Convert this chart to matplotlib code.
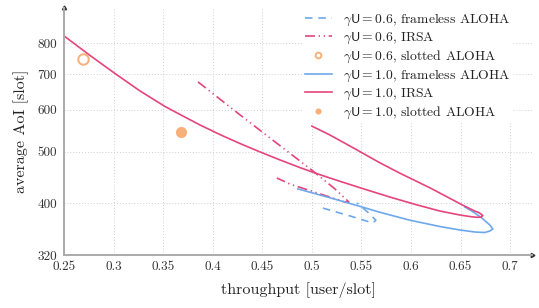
import numpy as np
import matplotlib
matplotlib.use("Agg")
import matplotlib.pyplot as plt
from matplotlib.ticker import FixedLocator, FixedFormatter, NullLocator

plt.rcParams['font.family'] = ['cmr10', 'DejaVu Serif']
plt.rcParams['mathtext.fontset'] = 'cm'
plt.rcParams['axes.formatter.use_mathtext'] = True

PINK = '#E5457B'
BLUE = '#6EA8EC'
ORANGE = '#F8B07A'

# gamma U = 1.0, IRSA (parametric curve: lower branch, tip, upper branch)
irsa10_x = [0.25, 0.2762, 0.3014, 0.3266, 0.3518, 0.3669, 0.3871, 0.4073, 0.4274, 0.4476,
            0.4677, 0.4879, 0.5081, 0.5282, 0.5534, 0.5786, 0.6038, 0.6290, 0.6492, 0.6613,
            0.6673, 0.6704, 0.6724, 0.6683, 0.6643, 0.6522, 0.6190, 0.5887, 0.5685, 0.5383,
            0.5181, 0.5000]
irsa10_y = [826, 759, 702, 651, 608.6, 588, 561.8, 538.9, 518.5, 500,
            483, 467.2, 453, 440.3, 425.3, 411.3, 398.5, 387.1, 380.5, 377.5,
            376.7, 377, 379.7, 384.6, 387, 397, 428, 456, 477, 513,
            538, 559]

# gamma U = 1.0, frameless ALOHA
fa10_x = [0.4859, 0.5181, 0.5504, 0.5685, 0.5988, 0.6290, 0.6492, 0.6643, 0.6744, 0.6794,
          0.6825, 0.6794, 0.6714, 0.6633, 0.6542]
fa10_y = [426, 410, 394, 385, 372, 362, 356.6, 353.5, 352.7, 355,
          358, 364.4, 375.6, 385, 394]

# gamma U = 0.6, frameless ALOHA
fa06_x = [0.5111, 0.5383, 0.5615, 0.5645, 0.5565, 0.5454]
fa06_y = [392, 379, 367.5, 372, 385, 401]

# gamma U = 0.6, IRSA
irsa06_x = [0.3851, 0.4224, 0.4577, 0.5000, 0.5232, 0.5373, 0.5333, 0.5081, 0.4778, 0.4647]
irsa06_y = [677, 597, 531, 462, 426, 402.5, 402.5, 417, 435, 446.6]

# slotted ALOHA points
sa06_x, sa06_y = [0.269], [747]
sa10_x, sa10_y = [0.368], [545]

xticks = [0.25, 0.3, 0.35, 0.4, 0.45, 0.5, 0.55, 0.6, 0.65, 0.7]
xticklabels = ['0.25', '0.3', '0.35', '0.4', '0.45', '0.5', '0.55', '0.6', '0.65', '0.7']
yticks = [320, 400, 500, 600, 700, 800]
yticklabels = ['320', '400', '500', '600', '700', '800']

fig = plt.figure(figsize=(5.39, 3.08), dpi=100)
ax = fig.add_axes([64/539, 53/308, (532-64)/539, (255-8)/308])

ax.plot(fa06_x, fa06_y, color=BLUE, lw=1.2, linestyle=(0, (4.5, 3.5)),
        label=r'$\gamma\mathsf{U} = 0.6$, frameless ALOHA')
ax.plot(irsa06_x, irsa06_y, color=PINK, lw=1.2, linestyle=(0, (6, 2.2, 0.8, 2.2, 0.8, 2.2)),
        label=r'$\gamma\mathsf{U} = 0.6$, IRSA')
ax.plot(sa06_x, sa06_y, linestyle='none', marker='o', markersize=7.5, markerfacecolor='none',
        markeredgecolor=ORANGE, markeredgewidth=1.4, label=r'$\gamma\mathsf{U} = 0.6$, slotted ALOHA')
ax.plot(fa10_x, fa10_y, color=BLUE, lw=1.2, label=r'$\gamma\mathsf{U} = 1.0$, frameless ALOHA')
ax.plot(irsa10_x, irsa10_y, color=PINK, lw=1.2, label=r'$\gamma\mathsf{U} = 1.0$, IRSA')
ax.plot(sa10_x, sa10_y, linestyle='none', marker='o', markersize=8, color=ORANGE,
        markeredgewidth=0, label=r'$\gamma\mathsf{U} = 1.0$, slotted ALOHA')

ax.set_yscale('log')
ax.set_xlim(0.25, 0.722)
ax.set_ylim(320, 932)
ax.xaxis.set_major_locator(FixedLocator(xticks))
ax.xaxis.set_major_formatter(FixedFormatter(xticklabels))
ax.yaxis.set_major_locator(FixedLocator(yticks))
ax.yaxis.set_major_formatter(FixedFormatter(yticklabels))
ax.yaxis.set_minor_locator(NullLocator())
ax.tick_params(length=0, labelsize=9.5, colors='#333333')
ax.tick_params(axis='x', pad=4)
ax.tick_params(axis='y', pad=5)
ax.grid(True, linestyle=(0, (1, 2)), color='#cfcfcf', lw=0.7)

for s in ['top', 'right']:
    ax.spines[s].set_visible(False)
for s in ['left', 'bottom']:
    ax.spines[s].set_color('#aaaaaa')
    ax.spines[s].set_linewidth(1.4)
ax.plot(1, 0, marker=(3, 0, -90), color='#333333', markersize=3.5, transform=ax.transAxes, clip_on=False)
ax.plot(0, 1, marker=(3, 0, 0), color='#333333', markersize=3.5, transform=ax.transAxes, clip_on=False)

ax.set_xlabel('throughput [user/slot]', fontsize=11.5, color='#222222', labelpad=7)
ax.set_ylabel('average AoI [slot]', fontsize=11.5, color='#222222', labelpad=6)

leg = ax.legend(loc='upper left', bbox_to_anchor=(302/539, 1 - 9/308), bbox_transform=fig.transFigure,
                fontsize=9.8, frameon=True, facecolor='white', edgecolor='none', framealpha=1,
                borderpad=0.2, borderaxespad=0, labelspacing=0.2, handlelength=2.0,
                handletextpad=0.8, markerscale=0.55)
for t in leg.get_texts():
    t.set_color('#222222')

fig.savefig('out.png', dpi=100)
